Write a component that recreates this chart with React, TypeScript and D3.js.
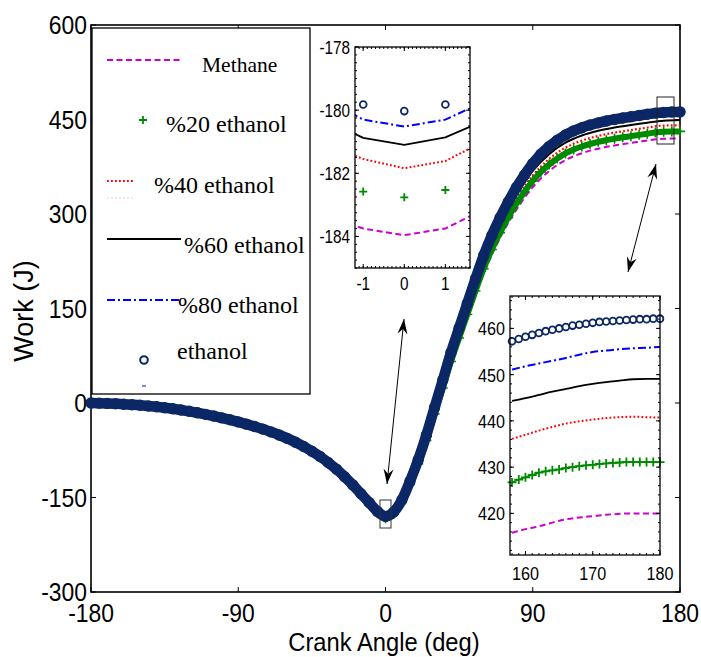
import React from 'react';
import * as d3 from 'd3';

// ---------- main plot data ----------
const angles5 = d3.range(-180, 181, 5);
const angles10 = d3.range(-180, 181, 10);

const ethanolMain = [
  0, -0.2, -0.6, -1.2, -1.9, -2.7, -3.6, -4.7, -6.0, -7.5, -9.2, -11.1, -13.2, -15.5, -18.0, -20.7, -23.6, -26.7, -30.0,
  -33.5, -37.3, -41.4, -45.9, -50.8, -56.2, -62.2, -69.0, -76.6, -85.0, -94.5, -105.0, -117.0, -130.0, -144.0, -158.0, -172.0, -180.03,
  -173, -154, -124, -90, -51, -7, 36, 80, 119, 158, 197, 234, 266, 294, 319, 342, 362, 380, 395, 407, 417, 425.5, 432, 437,
  441.2, 444.7, 447.6, 450.1, 452.3, 454.3, 456.3, 458.4, 460.1, 461.2, 461.8, 462.1,
];
const eth20Main = [
  0, -0.2, -0.6, -1.2, -1.9, -2.7, -3.7, -4.8, -6.1, -7.6, -9.3, -11.3, -13.4, -15.7, -18.3, -21.0, -24.0, -27.1, -30.5,
  -34.0, -37.9, -42.0, -46.6, -51.6, -57.0, -63.1, -70.0, -77.7, -86.3, -95.9, -106.6, -118.8, -132.0, -146.2, -160.4, -174.6, -182.76,
  -176.0, -157.8, -129.2, -96.7, -59.4, -17.3, 23.8, 65.8, 103.1, 140.4, 177.7, 213.1, 243.6, 270.4, 294.3, 316.3, 335.4, 352.6,
  366.9, 378.4, 388.0, 396.1, 402.3, 407.1, 411.1, 414.5, 417.2, 419.6, 421.7, 423.6, 425.6, 427.5, 429.3, 430.5, 431.1, 431.1,
];
const eth80Main = [
  0, -0.6, -1.9, -3.6, -6.0, -9.2, -13.2, -18.1, -23.7, -30.1, -37.4, -46.0, -56.4, -69.2, -85.2, -105.3, -130.4, -158.4, -180.52,
  -154.7, -91.3, -9.0, 77.2, 154.5, 229.9, 289.4, 336.9, 374.6, 401.4, 419.7, 431.1, 438.8, 444.1, 448.3, 451.8, 454.9, 456.0,
];
const eth60Main = [
  0, -0.6, -1.9, -3.6, -6.0, -9.3, -13.3, -18.1, -23.7, -30.2, -37.5, -46.2, -56.5, -69.4, -85.5, -105.6, -130.8, -159.0, -181.1,
  -155.6, -92.8, -11.3, 74.0, 150.6, 225.2, 284.1, 331.2, 368.5, 395.0, 413.2, 424.5, 432.0, 437.3, 441.4, 445.0, 448.0, 449.1,
];
const eth40Main = [
  0, -0.6, -1.9, -3.6, -6.1, -9.3, -13.3, -18.2, -23.8, -30.3, -37.7, -46.4, -56.8, -69.7, -85.9, -106.1, -131.3, -159.6, -181.84,
  -156.6, -94.5, -14.1, 70.2, 145.9, 219.6, 277.8, 324.2, 361.1, 387.3, 405.3, 416.5, 423.9, 429.2, 433.2, 437.1, 440.4, 440.7,
];
const methaneMain = [
  0, -0.6, -1.9, -3.7, -6.1, -9.4, -13.5, -18.4, -24.1, -30.7, -38.1, -46.9, -57.4, -70.5, -86.8, -107.3, -132.8, -161.4, -183.96,
  -159.4, -99.2, -21.2, 60.5, 134.1, 205.4, 262.0, 306.9, 342.7, 368.2, 385.6, 396.5, 403.7, 408.8, 412.7, 416.7, 419.4, 420.0,
];

const xTicks = [-180, -90, 0, 90, 180];
const yTicks = [-300, -150, 0, 150, 300, 450, 600];

// ---------- inset 1 (around TDC) ----------
const z1LineX = [-2, -1, 0, 1, 2];
const z1MarkX = [-1, 0, 1];
const methaneZ1 = [-183.3, -183.75, -183.96, -183.75, -183.1];
const eth40Z1 = [-181.0, -181.55, -181.84, -181.61, -180.95];
const eth60Z1 = [-180.25, -180.88, -181.1, -180.86, -180.3];
const eth80Z1 = [-179.6, -180.3, -180.52, -180.3, -179.7];
const eth20Z1 = [-182.58, -182.76, -182.53];
const ethanolZ1 = [-179.82, -180.03, -179.82];
const z1XTicks = [-1, 0, 1];
const z1YTicks = [-178, -180, -182, -184];

// ---------- inset 2 (end of expansion) ----------
const z2MarkX = d3.range(158, 181, 1);
const z2LineX = d3.range(158, 181, 2);
const ethanolZ2 = [457.2, 457.7, 458.2, 458.6, 459.0, 459.4, 459.7, 460.0, 460.3, 460.6, 460.8, 461.0, 461.2, 461.4, 461.5, 461.6, 461.7, 461.8, 461.9, 462.0, 462.0, 462.1, 462.1];
const eth20Z2 = [426.7, 427.3, 427.8, 428.3, 428.8, 429.1, 429.3, 429.5, 429.8, 430.0, 430.2, 430.4, 430.5, 430.7, 430.8, 430.9, 431.0, 431.1, 431.1, 431.1, 431.1, 431.1, 431.1];
const eth80Z2 = [451.1, 451.8, 452.4, 453.0, 453.6, 454.3, 454.9, 455.2, 455.5, 455.7, 455.8, 456.0];
const eth60Z2 = [444.3, 444.9, 445.6, 446.3, 446.9, 447.5, 448.0, 448.4, 448.7, 449.0, 449.1, 449.1];
const eth40Z2 = [436.1, 437.0, 437.9, 438.7, 439.4, 439.9, 440.3, 440.6, 440.8, 440.9, 440.8, 440.7];
const methaneZ2 = [415.8, 416.6, 417.2, 418.0, 418.7, 419.1, 419.4, 419.7, 419.9, 420.0, 420.0, 420.0];
const z2XTicks = [160, 170, 180];
const z2YTicks = [420, 430, 440, 450, 460];

const legendLabels = ['Methane', '%20 ethanol', '%40 ethanol', '%60 ethanol', '%80 ethanol', 'ethanol'];

// ---------- styles ----------
const C = {
  methane: '#cc00cc',
  e20: '#008a00',
  e40: '#ff0000',
  e60: '#000000',
  e80: '#0000ff',
  eth: '#0c2766',
};
const DASH = { methane: '6,3.5', e40: '1.8,2.2', e80: '8,3,2,3' };
const SANS = "'Liberation Sans', Arial, Helvetica, sans-serif";
const SERIF = "'Liberation Serif', 'Times New Roman', serif";

type TP = { x: number; y: number; size: number; anchor?: 'start' | 'middle' | 'end'; sx?: number; family?: string; rotate?: number; children: React.ReactNode };
const T = ({ x, y, size, anchor = 'middle', sx = 0.88, family = SANS, rotate = 0, children }: TP) => (
  <g transform={`translate(${x},${y}) rotate(${rotate}) scale(${sx},1)`}>
    <text fontSize={size} textAnchor={anchor} fontFamily={family} fill="#000">
      {children}
    </text>
  </g>
);

const plusPath = (s: number) => `M${-s},0H${s}M0,${-s}V${s}`;

export default function App() {
  // main scales
  const x = d3.scaleLinear().domain([-180, 180]).range([91, 680]);
  const y = d3.scaleLinear().domain([-300, 600]).range([592, 25]);
  const line = (xs: number[], ys: number[]) =>
    d3.line<number>().x((_, i) => x(xs[i])).y((d) => y(d)).curve(d3.curveMonotoneX)(ys) || '';

  // inset 1 scales
  const x1 = d3.scaleLinear().domain([-1.2, 1.6]).range([355, 470]);
  const y1 = d3.scaleLinear().domain([-185, -178]).range([268, 47]);
  const line1 = (ys: number[]) => d3.line<number>().x((_, i) => x1(z1LineX[i])).y((d) => y1(d))(ys) || '';

  // inset 2 scales
  const x2 = d3.scaleLinear().domain([157.7, 180]).range([510, 660]);
  const y2 = d3.scaleLinear().domain([411, 467]).range([555, 296]);
  const line2 = (ys: number[]) => d3.line<number>().x((_, i) => x2(z2LineX[i])).y((d) => y2(d)).curve(d3.curveMonotoneX)(ys) || '';

  const [x1a, x1b] = x1.range();
  const [y1b, y1a] = y1.range();
  const [x2a, x2b] = x2.range();
  const [y2b, y2a] = y2.range();

  const minorTicks = (
    xs: d3.ScaleLinear<number, number>,
    ys: d3.ScaleLinear<number, number>,
    xStep: number,
    yStep: number,
  ) => {
    const [xa, xb] = xs.domain();
    const [ya, yb] = ys.domain();
    const out: React.ReactNode[] = [];
    const X0 = xs.range()[0], X1 = xs.range()[1], Y0 = ys.range()[0], Y1 = ys.range()[1];
    d3.range(Math.ceil(xa / xStep) * xStep, xb + 1e-9, xStep).forEach((v, i) => {
      const px = xs(v);
      out.push(<line key={'mxb' + i} x1={px} x2={px} y1={Y0} y2={Y0 - 2} stroke="#000" strokeWidth={1} />);
      out.push(<line key={'mxt' + i} x1={px} x2={px} y1={Y1} y2={Y1 + 2} stroke="#000" strokeWidth={1} />);
    });
    d3.range(Math.ceil(ya / yStep) * yStep, yb + 1e-9, yStep).forEach((v, i) => {
      const py = ys(v);
      out.push(<line key={'myl' + i} x1={X0} x2={X0 + 2} y1={py} y2={py} stroke="#000" strokeWidth={1} />);
      out.push(<line key={'myr' + i} x1={X1} x2={X1 - 2} y1={py} y2={py} stroke="#000" strokeWidth={1} />);
    });
    return out;
  };

  return (
    <svg width={701} height={657} style={{ position: 'absolute', left: 0, top: 0, background: '#fff' }}>
      <defs>
        <marker id="ah" viewBox="-16 -6 17 12" refX={0} refY={0} markerWidth={17} markerHeight={12} markerUnits="userSpaceOnUse" orient="auto-start-reverse">
          <path d="M0,0L-15,-5L-10,0L-15,5Z" fill="#000" />
        </marker>
        <clipPath id="c1"><rect x={x1a} y={y1a} width={x1b - x1a} height={y1b - y1a} /></clipPath>
        <clipPath id="c2"><rect x={x2a} y={y2a} width={x2b - x2a} height={y2b - y2a} /></clipPath>
      </defs>
      <rect x={0} y={0} width={701} height={657} fill="#fff" />

      {/* main axes frame */}
      <rect x={91} y={25} width={589} height={567} fill="none" stroke="#000" strokeWidth={1.6} />
      {xTicks.map((t) => (
        <g key={'xt' + t}>
          <line x1={x(t)} x2={x(t)} y1={592} y2={587} stroke="#000" />
          <line x1={x(t)} x2={x(t)} y1={25} y2={30} stroke="#000" />
          <T x={x(t)} y={622} size={26}>{t}</T>
        </g>
      ))}
      {yTicks.map((t) => (
        <g key={'yt' + t}>
          <line x1={91} x2={96} y1={y(t)} y2={y(t)} stroke="#000" />
          <line x1={680} x2={675} y1={y(t)} y2={y(t)} stroke="#000" />
          <T x={87} y={y(t) + 9} size={26} anchor="end">{t}</T>
        </g>
      ))}
      <T x={384} y={651} size={25} sx={0.95}>Crank Angle (deg)</T>
      <T x={33} y={311} size={27} sx={1} rotate={-90}>Work (J)</T>

      {/* main series */}
      <path d={line(angles10, methaneMain)} fill="none" stroke={C.methane} strokeWidth={2} strokeDasharray={DASH.methane} />
      <path d={line(angles10, eth40Main)} fill="none" stroke={C.e40} strokeWidth={2.2} strokeDasharray={DASH.e40} />
      <path d={line(angles5, eth20Main)} fill="none" stroke={C.e20} strokeWidth={6} />
      {angles5.map((a, i) => (
        <path key={'p20' + a} d={plusPath(5)} transform={`translate(${x(a)},${y(eth20Main[i])})`} stroke={C.e20} strokeWidth={1.6} />
      ))}
      <path d={line(angles10, eth60Main)} fill="none" stroke={C.e60} strokeWidth={2} />
      <path d={line(angles10, eth80Main)} fill="none" stroke={C.e80} strokeWidth={2} strokeDasharray={DASH.e80} />
      <path d={line(angles5, ethanolMain)} fill="none" stroke={C.eth} strokeWidth={10.5} strokeLinecap="round" />
      {angles5.map((a, i) => (
        <circle key={'ce' + a} cx={x(a)} cy={y(ethanolMain[i])} r={4.6} fill="none" stroke={C.eth} strokeWidth={2.2} />
      ))}

      {/* zoom boxes */}
      <rect x={380} y={500} width={11} height={28} fill="none" stroke="#333" strokeWidth={1} />
      <rect x={657} y={97} width={17} height={47} fill="none" stroke="#222" strokeWidth={1} />

      {/* arrows */}
      <line x1={404} y1={319} x2={387} y2={484} stroke="#000" strokeWidth={1} markerStart="url(#ah)" markerEnd="url(#ah)" />
      <line x1={656} y1={164} x2={628} y2={272} stroke="#000" strokeWidth={1} markerStart="url(#ah)" markerEnd="url(#ah)" />

      {/* legend */}
      <rect x={92} y={28} width={218} height={366} fill="#fff" stroke="#000" strokeWidth={1.3} />
      <line x1={107} x2={180} y1={60} y2={60} stroke={C.methane} strokeWidth={2} strokeDasharray={DASH.methane} />
      <T x={202} y={72} size={21.5} anchor="start" sx={1} family={SERIF}>{legendLabels[0]}</T>
      <path d={plusPath(4)} transform="translate(143,120)" stroke={C.e20} strokeWidth={1.8} />
      <T x={166} y={132} size={24} anchor="start" sx={1} family={SERIF}>{legendLabels[1]}</T>
      <line x1={107} x2={133} y1={181} y2={181} stroke={C.e40} strokeWidth={2} strokeDasharray={DASH.e40} />
      <line x1={107} x2={133} y1={198} y2={198} stroke="#ffcccc" strokeWidth={1} strokeDasharray="2,2" />
      <T x={154} y={193} size={24} anchor="start" sx={1} family={SERIF}>{legendLabels[2]}</T>
      <line x1={107} x2={181} y1={239} y2={239} stroke={C.e60} strokeWidth={2.2} />
      <T x={184} y={253} size={24} anchor="start" sx={1} family={SERIF}>{legendLabels[3]}</T>
      <line x1={107} x2={180} y1={300} y2={300} stroke={C.e80} strokeWidth={2} strokeDasharray={DASH.e80} />
      <T x={178} y={313} size={24} anchor="start" sx={1} family={SERIF}>{legendLabels[4]}</T>
      <circle cx={144} cy={360} r={3.8} fill="none" stroke={C.eth} strokeWidth={2} />
      <T x={177} y={359} size={24} anchor="start" sx={1} family={SERIF}>{legendLabels[5]}</T>
      <line x1={142} x2={146} y1={386} y2={386} stroke={C.e80} strokeWidth={1} />

      {/* inset 1 */}
      <rect x={x1a} y={y1a} width={x1b - x1a} height={y1b - y1a} fill="#fff" />
      <g clipPath="url(#c1)">
        <path d={line1(methaneZ1)} fill="none" stroke={C.methane} strokeWidth={2} strokeDasharray={DASH.methane} />
        <path d={line1(eth40Z1)} fill="none" stroke={C.e40} strokeWidth={2} strokeDasharray={DASH.e40} />
        <path d={line1(eth60Z1)} fill="none" stroke={C.e60} strokeWidth={1.8} />
        <path d={line1(eth80Z1)} fill="none" stroke={C.e80} strokeWidth={2} strokeDasharray={DASH.e80} />
      </g>
      {z1MarkX.map((a, i) => (
        <g key={'z1m' + a}>
          <path d={plusPath(4)} transform={`translate(${x1(a)},${y1(eth20Z1[i])})`} stroke={C.e20} strokeWidth={1.8} />
          <circle cx={x1(a)} cy={y1(ethanolZ1[i])} r={3.4} fill="none" stroke={C.eth} strokeWidth={1.8} />
        </g>
      ))}
      <rect x={x1a} y={y1a} width={x1b - x1a} height={y1b - y1a} fill="none" stroke="#000" strokeWidth={1.3} />
      {minorTicks(x1, y1, 0.1, 0.25)}
      {z1XTicks.map((t) => (
        <g key={'z1x' + t}>
          <line x1={x1(t)} x2={x1(t)} y1={y1b} y2={y1b - 4} stroke="#000" />
          <line x1={x1(t)} x2={x1(t)} y1={y1a} y2={y1a + 4} stroke="#000" />
          <T x={x1(t)} y={290} size={18} sx={0.85}>{t}</T>
        </g>
      ))}
      {z1YTicks.map((t) => (
        <g key={'z1y' + t}>
          <line x1={x1a} x2={x1a + 4} y1={y1(t)} y2={y1(t)} stroke="#000" />
          <line x1={x1b} x2={x1b - 4} y1={y1(t)} y2={y1(t)} stroke="#000" />
          <T x={350} y={y1(t) + 6.5} size={18} anchor="end" sx={0.85}>{t}</T>
        </g>
      ))}

      {/* inset 2 */}
      <rect x={x2a} y={y2a} width={x2b - x2a} height={y2b - y2a} fill="#fff" />
      <g clipPath="url(#c2)">
        <path d={line2(methaneZ2)} fill="none" stroke={C.methane} strokeWidth={2} strokeDasharray={DASH.methane} />
        <path d={line2(eth40Z2)} fill="none" stroke={C.e40} strokeWidth={2} strokeDasharray={DASH.e40} />
        <path d={line2(eth60Z2)} fill="none" stroke={C.e60} strokeWidth={1.8} />
        <path d={line2(eth80Z2)} fill="none" stroke={C.e80} strokeWidth={2} strokeDasharray={DASH.e80} />
      </g>
      <path
        d={d3.line<number>().x((_, i) => x2(z2MarkX[i])).y((d) => y2(d))(eth20Z2) || ''}
        fill="none" stroke={C.e20} strokeWidth={1.5}
      />
      {z2MarkX.map((a, i) => (
        <path key={'z2p' + a} d={plusPath(4.5)} transform={`translate(${x2(a)},${y2(eth20Z2[i])})`} stroke={C.e20} strokeWidth={1.8} />
      ))}
      {z2MarkX.map((a, i) => (
        <circle key={'z2c' + a} cx={x2(a)} cy={y2(ethanolZ2[i])} r={3.4} fill="none" stroke={C.eth} strokeWidth={1.8} />
      ))}
      <rect x={x2a} y={y2a} width={x2b - x2a} height={y2b - y2a} fill="none" stroke="#000" strokeWidth={1.3} />
      {minorTicks(x2, y2, 1, 2)}
      {z2XTicks.map((t) => (
        <g key={'z2x' + t}>
          <line x1={x2(t)} x2={x2(t)} y1={y2b} y2={y2b - 4} stroke="#000" />
          <line x1={x2(t)} x2={x2(t)} y1={y2a} y2={y2a + 4} stroke="#000" />
          <T x={x2(t)} y={580} size={19} sx={0.85}>{t}</T>
        </g>
      ))}
      {z2YTicks.map((t) => (
        <g key={'z2y' + t}>
          <line x1={x2a} x2={x2a + 4} y1={y2(t)} y2={y2(t)} stroke="#000" />
          <line x1={x2b} x2={x2b - 4} y1={y2(t)} y2={y2(t)} stroke="#000" />
          <T x={505} y={y2(t) + 7} size={19} anchor="end" sx={0.85}>{t}</T>
        </g>
      ))}
    </svg>
  );
}
